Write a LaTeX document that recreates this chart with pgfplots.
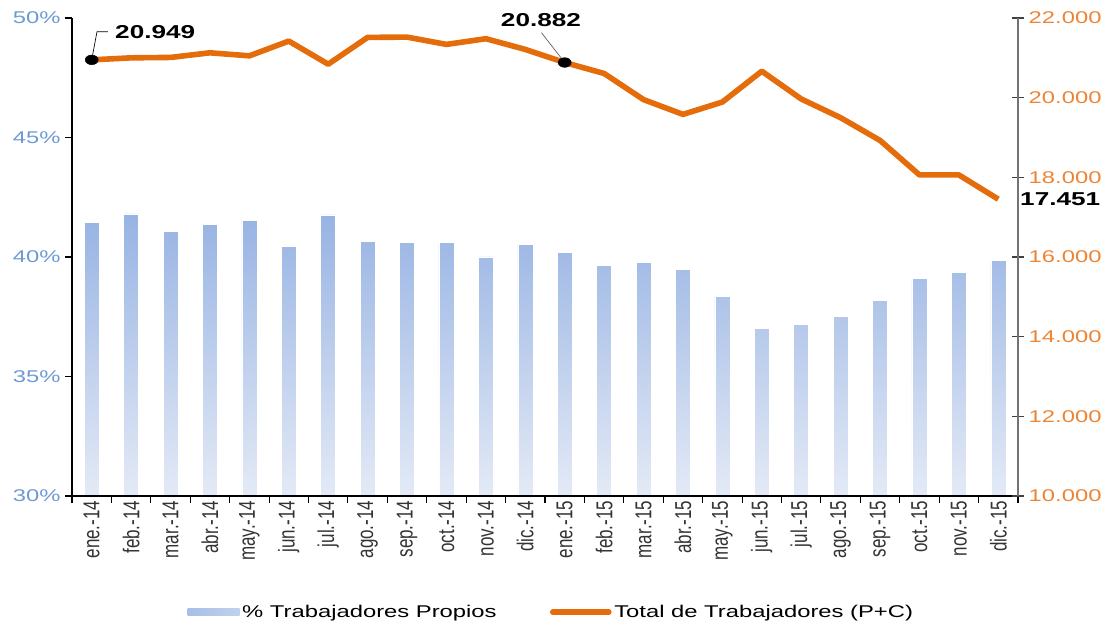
\documentclass[border=0pt]{standalone}
\usepackage{fontspec}
\setmainfont[FakeStretch=1.4]{Liberation Sans}
\newfontfamily\xfont{Liberation Sans}
\usepackage{graphicx}
\usepackage{pgfplots}
\usepackage{pgfplotstable}
\pgfplotsset{compat=1.18}
\definecolor{barTop}{HTML}{97B3E3}
\definecolor{barBot}{HTML}{E4EAF6}
\definecolor{lineC}{HTML}{E46C0A}
\definecolor{leftC}{HTML}{6E9AD4}
\definecolor{rightC}{HTML}{EE8433}
\newcommand\xl[1]{\scalebox{1}[1.35]{#1}}
\pgfplotstableread{
x pct total
0 41.44 20949
1 41.80 21000
2 41.08 21010
3 41.37 21126
4 41.52 21050
5 40.45 21420
6 41.76 20840
7 40.64 21513
8 40.60 21520
9 40.60 21337
10 40.00 21480
11 40.53 21211
12 40.18 20882
13 39.65 20607
14 39.77 19951
15 39.48 19580
16 38.34 19890
17 37.00 20664
18 37.19 19967
19 37.50 19497
20 38.19 18926
21 39.10 18060
22 39.35 18060
23 39.85 17451
}\data
\begin{document}
\begin{tikzpicture}
\useasboundingbox (0,0) rectangle (834.75pt,467.25pt);
\begin{axis}[
  at={(54pt,95.25pt)}, anchor=south west, scale only axis,
  width=709.5pt, height=358.5pt,
  xmin=-0.5, xmax=23.5, ymin=30, ymax=50,
  axis y line*=left, axis x line*=bottom,
  axis line style={black, line width=0.8pt},
  axis on top,
  tick align=outside,
  major tick length=5pt,
  tick style={black, line width=0.8pt},
  xtick={-0.5,0.5,...,23.5},
  xticklabels={},
  extra x ticks={0,...,23},
  extra x tick labels={\xl{ene.-14},\xl{feb.-14},\xl{mar.-14},\xl{abr.-14},\xl{may.-14},\xl{jun.-14},\xl{jul.-14},\xl{ago.-14},\xl{sep.-14},\xl{oct.-14},\xl{nov.-14},\xl{dic.-14},\xl{ene.-15},\xl{feb.-15},\xl{mar.-15},\xl{abr.-15},\xl{may.-15},\xl{jun.-15},\xl{jul.-15},\xl{ago.-15},\xl{sep.-15},\xl{oct.-15},\xl{nov.-15},\xl{dic.-15}},
  extra x tick style={major tick length=0pt, grid=none,
    tick label style={rotate=90, anchor=east, font=\xfont\fontsize{12.75}{14}\selectfont, text=black!80}},
  ytick={30,35,40,45,50},
  yticklabels={30\%,35\%,40\%,45\%,50\%},
  y tick label style={font=\fontsize{12.75}{14}\selectfont, text=leftC},
  /pgf/number format/assume math mode=true,
]
\addplot[ybar, bar width=11.25pt, draw=white, line width=0.4pt, top color=barTop, bottom color=barBot, forget plot] table[x=x,y=pct]{\data};
\end{axis}
\begin{axis}[
  at={(54pt,95.25pt)}, anchor=south west, scale only axis,
  width=709.5pt, height=358.5pt,
  xmin=-0.5, xmax=23.5, ymin=10000, ymax=22000,
  axis y line*=right, axis x line=none,
  y axis line style={black!55, line width=1.2pt},
  tick align=center, major tick length=9pt,
  y tick style={black!75, line width=0.8pt},
  scaled y ticks=false,
  ytick={10000,12000,...,22000},
  yticklabels={10.000,12.000,14.000,16.000,18.000,20.000,22.000},
  y tick label style={font=\fontsize{12.75}{14}\selectfont, text=rightC},
  /pgf/number format/assume math mode=true,
  clip=false,
  legend columns=2,
  legend cell align=left,
  legend style={at={(0.507,-0.243)}, anchor=center, draw=none, fill=none,
    font=\fontsize{12.75}{14}\selectfont,
    /tikz/every even column/.append style={column sep=38pt}},
]
\addlegendimage{legend image code/.code={\path[draw=none, left color=barTop!85!white, right color=barTop!60!white] (0pt,-2.6pt) rectangle (39pt,2.6pt);}}
\addlegendentry{\% Trabajadores Propios}
\addplot[lineC, line width=4.2pt, line join=round,
  legend image code/.code={\draw[lineC, line width=4.2pt, line cap=round] (0pt,0pt) -- (42pt,0pt);}]
  table[x=x,y=total]{\data};
\addlegendentry{Total de Trabajadores (P+C)}
\addplot[only marks, mark=*, mark size=3.6pt, black, mark options={xscale=1.35}, forget plot]
  coordinates {(0,20949) (12,20882)};
\draw[black, line width=0.5pt] (axis cs:0,20949) -- (axis cs:0.134,21656) -- (axis cs:0.413,21656);
\node[anchor=west, inner sep=0pt, font=\bfseries\fontsize{14}{16}\selectfont] at (axis cs:0.59,21656) {20.949};
\draw[black!65, line width=0.5pt] (axis cs:12,20882) -- (axis cs:11.41,21631);
\node[anchor=center, inner sep=0pt, font=\bfseries\fontsize{14}{16}\selectfont] at (axis cs:11.397,21950) {20.882};
\node[anchor=west, inner sep=0pt, font=\bfseries\fontsize{14}{16}\selectfont] at (axis cs:23.55,17440) {17.451};
\end{axis}
\end{tikzpicture}
\end{document}
